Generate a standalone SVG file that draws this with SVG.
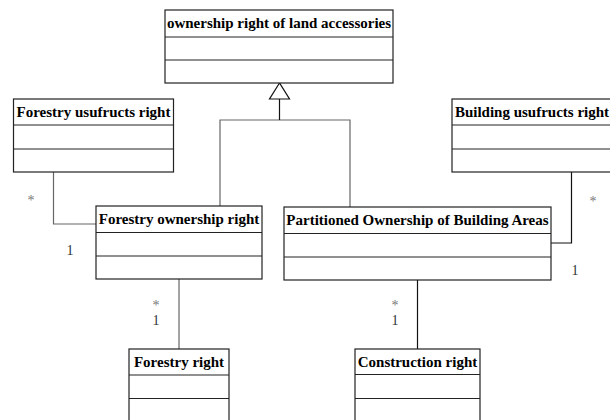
<svg xmlns="http://www.w3.org/2000/svg" width="610" height="420" viewBox="0 0 610 420">
  <style>
    .box { fill: #ffffff; stroke: #222222; stroke-width: 1.2; }
    .div { stroke: #222222; stroke-width: 1.2; }
    .name { font-family: "Liberation Serif", "Times New Roman", serif; font-weight: bold; font-size: 15px; fill: #000000; text-anchor: middle; }
    .mult { font-family: "Liberation Serif", "Times New Roman", serif; font-size: 14px; fill: #333333; text-anchor: middle; }
    .star { font-family: "Liberation Serif", "Times New Roman", serif; font-size: 14px; fill: #777777; text-anchor: middle; }
    .conn { fill: none; stroke-width: 1.2; }
    .gray { stroke: #666666; }
    .dark { stroke: #111111; }
  </style>

  <rect width="610" height="420" fill="#ffffff"/>

  <!-- connectors -->
  <g id="connectors">
    <!-- generalization to the abstract ownership class -->
    <polyline class="conn gray" points="220,206 220,120 350,120 350,207"/>
    <line class="conn dark" x1="279.5" y1="120" x2="279.5" y2="99"/>
    <polygon points="279.5,83 269.5,99 289.5,99" fill="#ffffff" stroke="#111111" stroke-width="1.2"/>

    <!-- forestry usufructs - forestry ownership -->
    <polyline class="conn gray" points="53.5,172 53.5,224 96,224"/>
    <text class="star" x="31" y="205">*</text>
    <text class="mult" x="70" y="255">1</text>

    <!-- building usufructs - partitioned ownership -->
    <polyline class="conn dark" points="571.5,172 571.5,243 551,243"/>
    <text class="star" x="593" y="206">*</text>
    <text class="mult" x="575" y="275">1</text>

    <!-- forestry ownership - forestry right -->
    <line class="conn gray" x1="179" y1="279" x2="179" y2="349"/>
    <text class="star" x="156" y="310">*</text>
    <text class="mult" x="156" y="325">1</text>

    <!-- partitioned ownership - construction right -->
    <line class="conn dark" x1="417.5" y1="280" x2="417.5" y2="349"/>
    <text class="star" x="395" y="310">*</text>
    <text class="mult" x="395" y="325">1</text>
  </g>

  <g id="ownership-right-of-land-accessories">
    <rect class="box" x="165" y="10" width="228" height="73"/>
    <line class="div" x1="165" y1="37" x2="393" y2="37"/>
    <line class="div" x1="165" y1="60" x2="393" y2="60"/>
    <text class="name" x="279" y="28">ownership right of land accessories</text>
  </g>

  <g id="forestry-usufructs-right">
    <rect class="box" x="13.5" y="99" width="160" height="73"/>
    <line class="div" x1="13.5" y1="125" x2="173.5" y2="125"/>
    <line class="div" x1="13.5" y1="149" x2="173.5" y2="149"/>
    <text class="name" x="93.5" y="117">Forestry usufructs right</text>
  </g>

  <g id="building-usufructs-right">
    <rect class="box" x="452" y="99" width="162" height="73"/>
    <line class="div" x1="452" y1="125" x2="614" y2="125"/>
    <line class="div" x1="452" y1="149" x2="614" y2="149"/>
    <text class="name" x="532" y="117">Building usufructs right</text>
  </g>

  <g id="forestry-ownership-right">
    <rect class="box" x="96" y="206" width="166" height="73"/>
    <line class="div" x1="96" y1="232.5" x2="262" y2="232.5"/>
    <line class="div" x1="96" y1="256" x2="262" y2="256"/>
    <text class="name" x="179" y="224">Forestry ownership right</text>
  </g>

  <g id="partitioned-ownership-of-building-areas">
    <rect class="box" x="284" y="207" width="267" height="73"/>
    <line class="div" x1="284" y1="233.5" x2="551" y2="233.5"/>
    <line class="div" x1="284" y1="257" x2="551" y2="257"/>
    <text class="name" x="417.5" y="225">Partitioned Ownership of Building Areas</text>
  </g>

  <g id="forestry-right">
    <rect class="box" x="129" y="349" width="100" height="73"/>
    <line class="div" x1="129" y1="375" x2="229" y2="375"/>
    <line class="div" x1="129" y1="398.5" x2="229" y2="398.5"/>
    <text class="name" x="179" y="367">Forestry right</text>
  </g>

  <g id="construction-right">
    <rect class="box" x="355" y="349" width="125" height="73"/>
    <line class="div" x1="355" y1="374.5" x2="480" y2="374.5"/>
    <line class="div" x1="355" y1="398.5" x2="480" y2="398.5"/>
    <text class="name" x="417.5" y="367">Construction right</text>
  </g>
</svg>
